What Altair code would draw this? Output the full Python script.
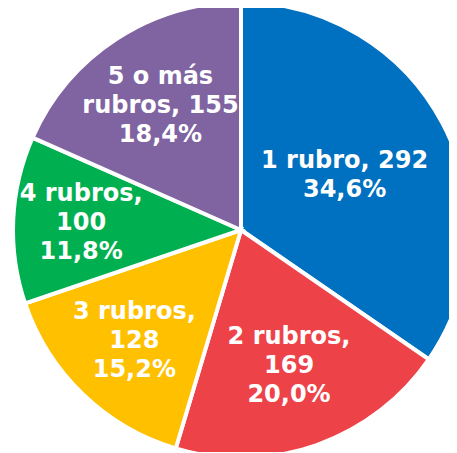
import altair as alt
import pandas as pd

categories = ["1 rubro", "2 rubros", "3 rubros", "4 rubros", "5 o más rubros"]
values = [292, 169, 128, 100, 155]
label_lines = [
    ["1 rubro, 292", "34,6%"],
    ["2 rubros,", "169", "20,0%"],
    ["3 rubros,", "128", "15,2%"],
    ["4 rubros,", "100", "11,8%"],
    ["5 o más", "rubros, 155", "18,4%"],
]
colors = ["#0070C0", "#EE4249", "#FFC000", "#00B050", "#8064A2"]

LINE_H = 29
slots = [-1.0, -0.5, 0.0, 0.5, 1.0]

df = pd.DataFrame({
    "cat": categories,
    "value": values,
    "order": list(range(len(categories))),
})
# place each label line in a vertical slot so every label block is centred
for k, s in enumerate(slots):
    col = []
    for lines in label_lines:
        n = len(lines)
        txt = ""
        for i, ln in enumerate(lines):
            if i - (n - 1) / 2 == s:
                txt = ln
        col.append(txt)
    df[f"slot_{k}"] = col

base = alt.Chart(df).encode(
    theta=alt.Theta("value:Q", stack=True),
    order=alt.Order("order:Q"),
)

arcs = base.mark_arc(radius=228, stroke="white", strokeWidth=4).encode(
    color=alt.Color("cat:N", scale=alt.Scale(domain=categories, range=colors), legend=None)
)

# larger slices keep their label closer to the centre (best-fit style)
label_radius = alt.Radius(
    "value:Q",
    scale=alt.Scale(type="linear", zero=False, domain=[min(values), max(values)], range=[160, 117]),
)

layers = [arcs]
for k, s in enumerate(slots):
    layers.append(
        base.mark_text(
            dy=s * LINE_H,
            font="DejaVu Sans",
            fontWeight="bold",
            fontSize=24,
            color="white",
            align="center",
            baseline="middle",
        ).encode(text=f"slot_{k}:N", radius=label_radius)
    )

chart = alt.layer(*layers).properties(
    width=416,
    height=444,
    padding={"left": 25, "top": 0, "right": 0, "bottom": 0},
    autosize=alt.AutoSizeParams(type="none"),
).configure_view(stroke=None)

chart.save("out.html", embed_options={"renderer": "svg", "actions": False})
